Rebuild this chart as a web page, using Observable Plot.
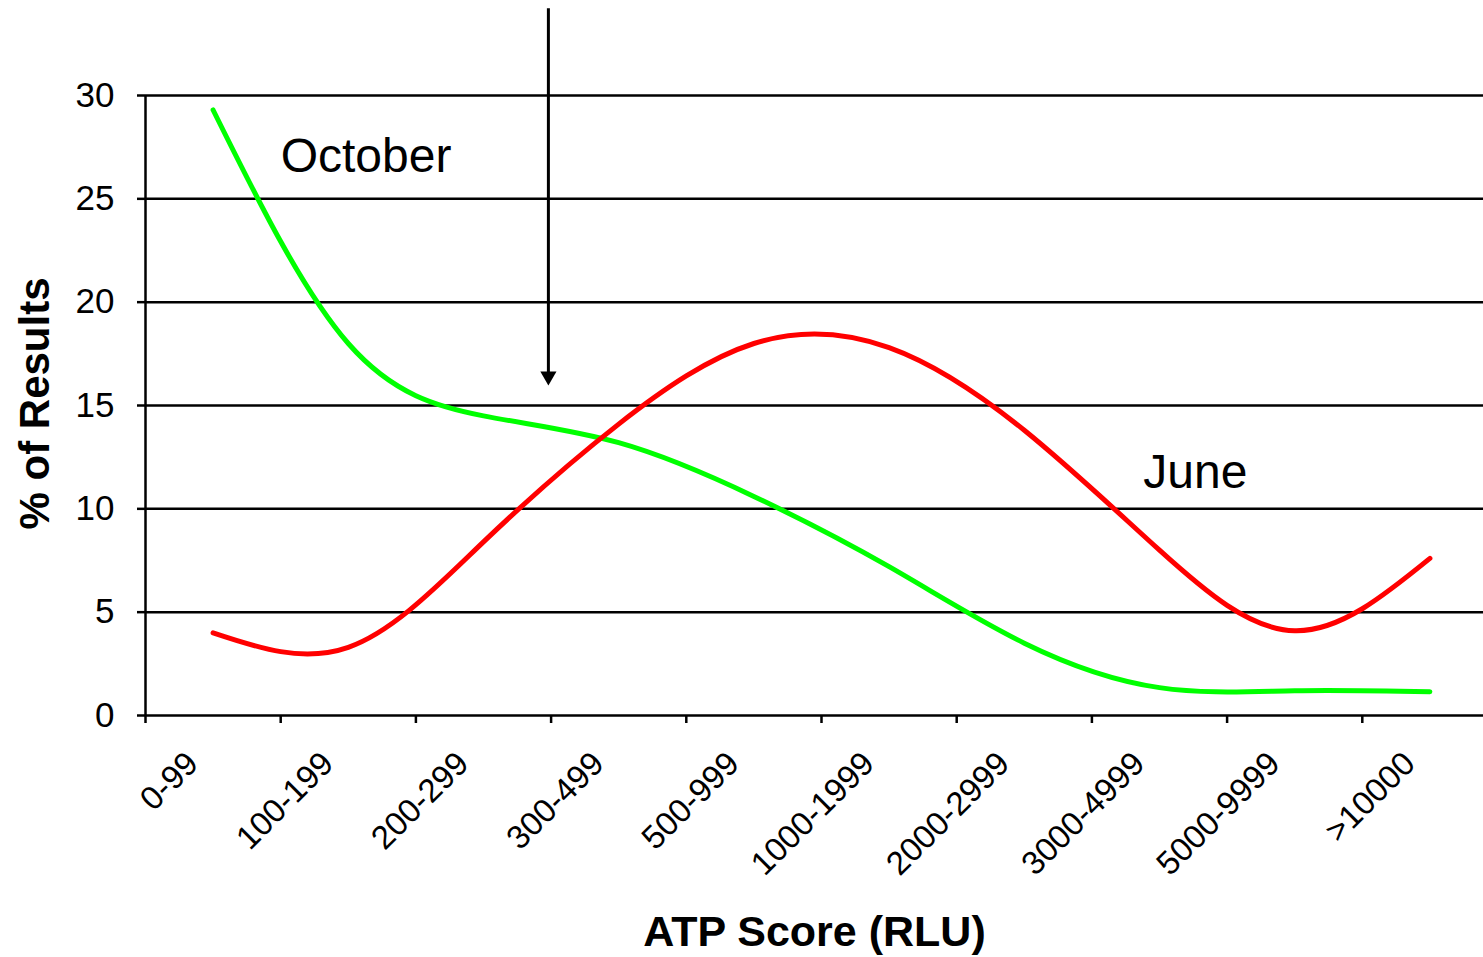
<!DOCTYPE html>
<html><head><meta charset="utf-8">
<script src="https://cdn.jsdelivr.net/npm/d3@7"></script>
<script src="https://cdn.jsdelivr.net/npm/@observablehq/plot@0.6"></script>
<style>body{margin:0;background:#fff;} svg{display:block;}</style>
</head><body><div id="chart"></div>
<script>
// ---- data ----
const categories = ["0-99","100-199","200-299","300-499","500-999","1000-1999","2000-2999","3000-4999","5000-9999",">10000"];
const october = [29.3, 18.0, 14.5, 13.2, 10.6, 7.2, 3.5, 1.35, 1.2, 1.15];
const june    = [4.0, 3.3, 8.4, 14.1, 18.0, 17.8, 13.8, 8.0, 4.1, 7.6];
const yTicks = [0, 5, 10, 15, 20, 25, 30];
const gridValues = [5, 10, 15, 20, 25, 30];
const boundaries = [-0.5, 0.5, 1.5, 2.5, 3.5, 4.5, 5.5, 6.5, 7.5, 8.5];
const seriesLabels = [{label: "October", x: 0.5, y: 26.3}, {label: "June", x: 6.88, y: 11.0}];
const arrowSpec = [{x: 2.48, top: 34.2, head: 16.42}];
const xTitle = "ATP Score (RLU)";
const yTitle = "% of Results";

const rows = [
  ...categories.map((c, i) => ({series: "October", i, cat: c, value: october[i]})),
  ...categories.map((c, i) => ({series: "June", i, cat: c, value: june[i]}))
];

const downTriangle = {
  draw(context, size) {
    const y = Math.sqrt(size / (Math.sqrt(3) * 3));
    context.moveTo(0, 2 * y);
    context.lineTo(-Math.sqrt(3) * y, -y);
    context.lineTo(Math.sqrt(3) * y, -y);
    context.closePath();
  }
};

const font = "'Liberation Sans', Arial, sans-serif";

const chart = Plot.plot({
  width: 1483,
  height: 957,
  marginLeft: 145,
  marginRight: 0,
  marginTop: 95,
  marginBottom: 242,
  style: {fontFamily: font, background: "white", color: "black", overflow: "visible"},
  x: {domain: [-0.5, 9.5], range: [145, 1497], axis: null},
  y: {domain: [0, 30], axis: null},
  color: {domain: ["October", "June"], range: ["#00ff00", "#ff0000"]},
  marks: [
    Plot.ruleY(gridValues, {stroke: "black", strokeWidth: 2.5}),
    Plot.ruleY([0], {stroke: "black", strokeWidth: 2.5}),
    Plot.ruleX([-0.5], {y1: 0, y2: 30, stroke: "black", strokeWidth: 2.5}),
    Plot.axisY({ticks: yTicks, tickSize: 8, tickPadding: 23, fontSize: 35, strokeWidth: 2.5, label: null, tickFormat: d => String(d)}),
    Plot.axisX({ticks: boundaries, tickSize: 8, strokeWidth: 2.5, label: null, tickFormat: () => ""}),
    Plot.text(categories, {x: (d, i) => i, frameAnchor: "bottom", text: d => d, rotate: -45, textAnchor: "end", dx: -13, dy: 50, fontSize: 33, fill: "black"}),
    Plot.line(rows, {x: "i", y: "value", z: "series", stroke: "series", strokeWidth: 5, curve: "natural"}),
    Plot.ruleX(arrowSpec, {x: "x", y1: "top", y2: "head", stroke: "black", strokeWidth: 3}),
    Plot.dot(arrowSpec, {x: "x", y: "head", symbol: downTriangle, r: 6, fill: "black", stroke: null}),
    Plot.text(seriesLabels, {x: "x", y: "y", text: "label", textAnchor: "start", lineAnchor: "bottom", fontSize: 48, fill: "black"}),
    Plot.text([xTitle], {frameAnchor: "bottom", text: d => d, dy: 230, lineAnchor: "bottom", fontSize: 43, fontWeight: "bold", fill: "black"}),
    Plot.text([yTitle], {frameAnchor: "left", text: d => d, dx: -110, dy: -2, rotate: -90, textAnchor: "middle", fontSize: 42, fontWeight: "bold", fill: "black"})
  ]
});
document.getElementById("chart").appendChild(chart);
</script>
</body></html>
